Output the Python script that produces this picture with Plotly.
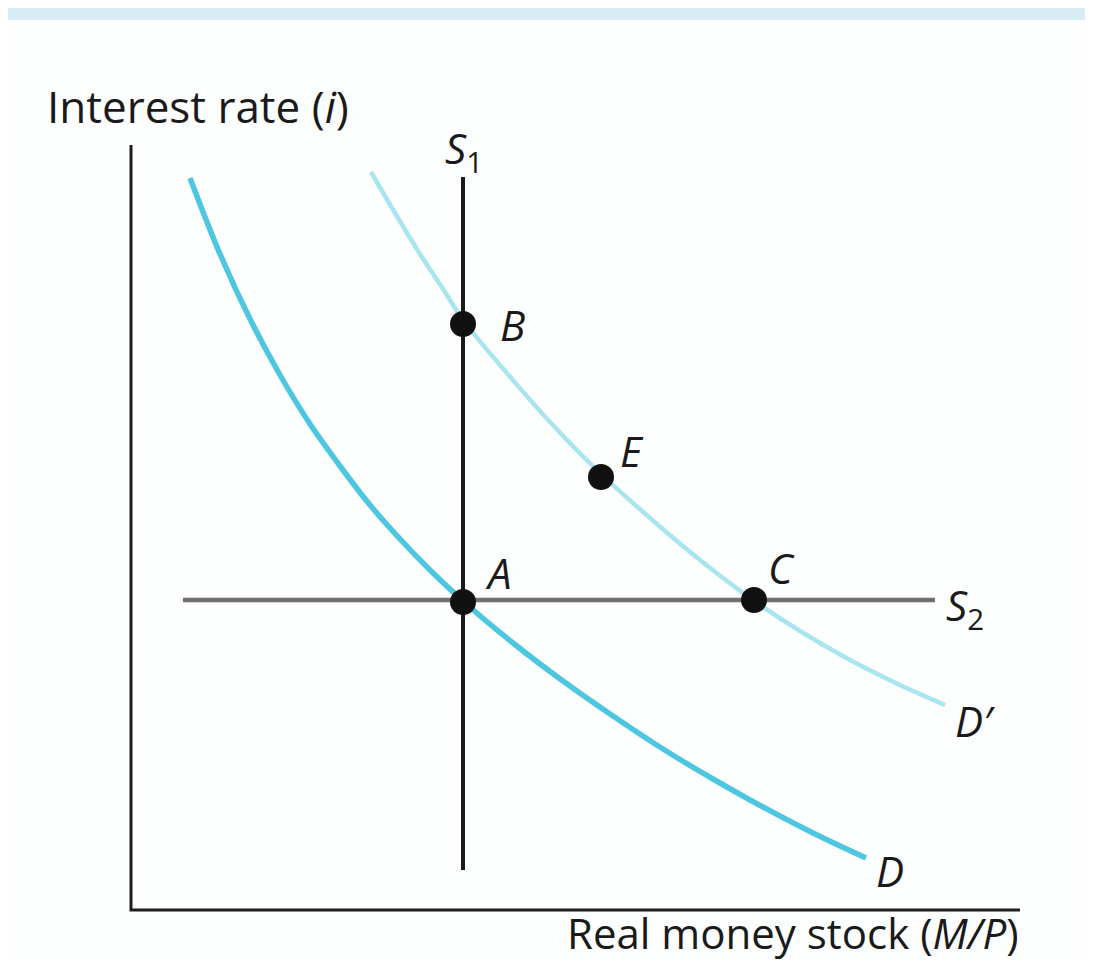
import plotly.graph_objects as go

# ---- data (real money stock, interest rate) ----
d_x = [0.59, 0.89, 1.19, 1.49, 1.79, 2.09, 2.39, 2.69, 2.99, 3.32, 3.82, 4.32, 4.82, 5.32, 5.82, 6.32, 6.82, 7.35]
d_y = [7.32, 6.56, 5.91, 5.35, 4.86, 4.44, 4.05, 3.71, 3.40, 3.09, 2.67, 2.29, 1.94, 1.61, 1.31, 1.03, 0.77, 0.52]

dp_x = [2.40, 2.64, 2.89, 3.14, 3.32, 3.69, 4.19, 4.69, 5.19, 5.69, 6.22, 6.69, 7.19, 7.69, 8.14]
dp_y = [7.38, 6.97, 6.56, 6.18, 5.90, 5.45, 4.88, 4.37, 3.92, 3.50, 3.10, 2.79, 2.50, 2.25, 2.05]

s1_x = [3.32, 3.32]
s1_y = [0.40, 7.33]
s2_x = [0.52, 8.04]
s2_y = [3.10, 3.10]

axis_x = [0, 0, 8.89]
axis_y = [7.65, 0, 0]

pt_names = ["A", "B", "C", "E"]
pt_x = [3.32, 3.32, 6.23, 4.70]
pt_y = [3.08, 5.86, 3.10, 4.33]

FONT = "Open Sans"
BLUE = "#4dc6df"
LIGHT = "#a8e5ef"
INK = "#1a1a1a"

fig = go.Figure()
fig.add_trace(go.Scatter(x=axis_x, y=axis_y, mode="lines",
                         line=dict(color="#1e1e1e", width=3), hoverinfo="skip"))
fig.add_trace(go.Scatter(x=d_x, y=d_y, mode="lines",
                         line=dict(color=BLUE, width=5.5, shape="spline", smoothing=1.0), hoverinfo="skip"))
fig.add_trace(go.Scatter(x=dp_x, y=dp_y, mode="lines",
                         line=dict(color=LIGHT, width=4.5, shape="spline", smoothing=1.0), hoverinfo="skip"))
fig.add_trace(go.Scatter(x=s1_x, y=s1_y, mode="lines",
                         line=dict(color=INK, width=4), hoverinfo="skip"))
fig.add_trace(go.Scatter(x=s2_x, y=s2_y, mode="lines",
                         line=dict(color="#707070", width=4.5), hoverinfo="skip"))
fig.add_trace(go.Scatter(x=pt_x, y=pt_y, mode="markers", text=pt_names,
                         marker=dict(color="#111111", size=26), hoverinfo="skip"))

labels = [
    # text, x, y, xanchor, size
    ("Interest rate (<i>i</i>)", -0.86, 8.04, "left", 44),
    ("Real money stock (<i>M/P</i>)", 8.90, -0.22, "right", 42),
    ("<i>S</i><sub>1</sub>", 3.33, 7.60, "center", 42),
    ("<i>B</i>", 3.81, 5.86, "center", 42),
    ("<i>E</i>", 5.01, 4.60, "center", 42),
    ("<i>A</i>", 3.67, 3.38, "center", 42),
    ("<i>C</i>", 6.50, 3.43, "center", 42),
    ("<i>S</i><sub>2</sub>", 8.13, 3.03, "left", 42),
    ("<i>D′</i>", 8.22, 1.90, "left", 42),
    ("<i>D</i>", 7.59, 0.40, "center", 42),
]
for t, x, y, xa, fs in labels:
    fig.add_annotation(x=x, y=y, text=t, showarrow=False, xanchor=xa, yanchor="middle",
                       font=dict(family=FONT, size=fs, color=INK))

# the page body has an 8px margin, so the figure is sized to fit the window
fig.update_layout(
    width=1085, height=954,
    margin=dict(l=0, r=0, t=0, b=0),
    paper_bgcolor="#d6eef3",
    plot_bgcolor="rgba(0,0,0,0)",
    showlegend=False,
    xaxis=dict(range=[-1.23, 9.62], visible=False, fixedrange=True),
    yaxis=dict(range=[-0.52, 9.02], visible=False, fixedrange=True),
    shapes=[dict(type="rect", xref="paper", yref="paper", x0=0, x1=1.0, y0=0, y1=1 - 12 / 954,
                 fillcolor="#fdfefe", line=dict(width=0), layer="below")],
)

fig.write_html("out.html")
